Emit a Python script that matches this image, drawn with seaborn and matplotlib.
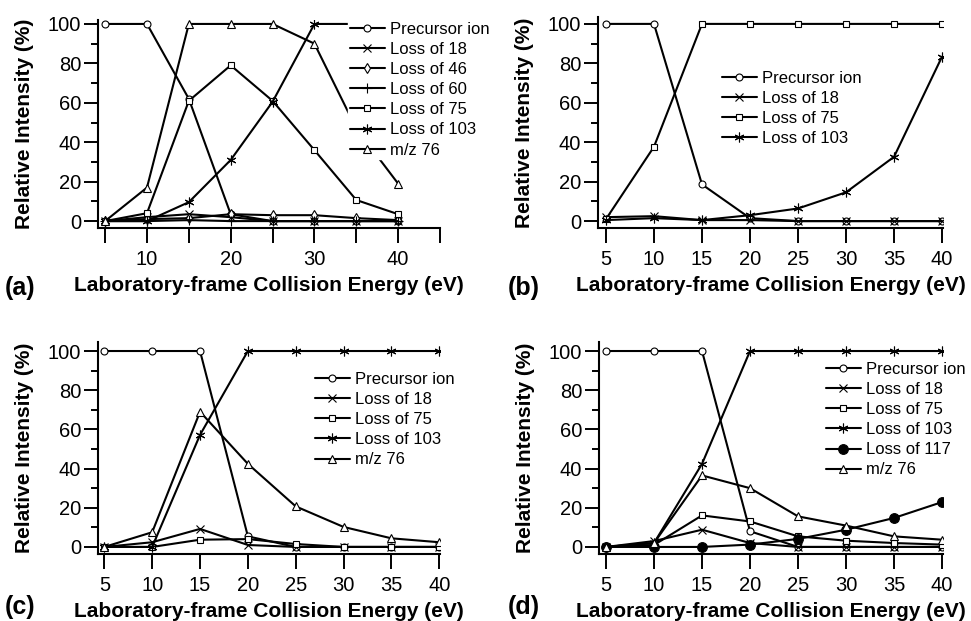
import matplotlib
matplotlib.use("Agg")
import matplotlib.pyplot as plt
from matplotlib.ticker import FixedLocator
import seaborn as sns

# ---------------- data ----------------
energy = [5, 10, 15, 20, 25, 30, 35, 40]

# panel (a)
a_precursor = [100, 100, 62, 3.5, 0, 0, 0, 0]
a_loss18 = [0, 2, 3.5, 2, 0, 0, 0, 0]
a_loss46 = [0, 1, 1.5, 3.5, 3, 3, 1.5, 0.5]
a_loss60 = [0, 0, 0.5, 0, 0, 0, 0, 0]
a_loss75 = [0, 4, 61, 79, 61, 36, 10.7, 3.5]
a_loss103 = [0, 0, 9.6, 31, 60.5, 100, 100, 100]
a_mz76 = [0, 17, 100, 100, 100, 90, 47, 19]

# panel (b)
b_precursor = [100, 100, 18.6, 1.5, 0, 0, 0, 0]
b_loss18 = [2, 2.5, 0.5, 0.5, 0, 0, 0, 0]
b_loss75 = [1, 37.7, 100, 100, 100, 100, 100, 100]
b_loss103 = [0.5, 1.5, 0.5, 3, 6.4, 14.6, 32.6, 83.4]

# panel (c)
c_precursor = [100, 100, 100, 5.4, 0, 0, 0, 0]
c_loss18 = [0, 2.4, 9.2, 1, 0, 0, 0, 0]
c_loss75 = [0, 0, 3.7, 4, 1.5, 0, 0, 0]
c_loss103 = [0, 0, 57.2, 100, 100, 100, 100, 100]
c_mz76 = [0, 7.5, 69, 42.4, 20.7, 10.2, 4.4, 2.4]

# panel (d)
d_precursor = [100, 100, 100, 8, 0, 0, 0, 0]
d_loss18 = [0, 3, 8.8, 2, 0, 0, 0, 0]
d_loss75 = [0, 1, 16.1, 13, 5.4, 3.2, 2, 1.2]
d_loss103 = [0, 2, 42.4, 100, 100, 100, 100, 100]
d_loss117 = [0, 0, 0, 1.2, 4.1, 8.8, 14.8, 22.9]
d_mz76 = [0, 2, 36.5, 30, 15.6, 10.9, 5.4, 3.7]

names = {
    "pre": "Precursor ion", "18": "Loss of 18", "46": "Loss of 46",
    "60": "Loss of 60", "75": "Loss of 75", "103": "Loss of 103",
    "117": "Loss of 117", "mz": "m/z 76",
}

# ---------------- style ----------------
sns.set_theme(style="ticks")
plt.rcParams["font.family"] = ["Liberation Sans", "DejaVu Sans"]
plt.rcParams["axes.linewidth"] = 1.4

W, H = 971, 621
fig = plt.figure(figsize=(W / 100, H / 100), dpi=100)

ASTER = (6, 2, 0)
mstyle = {
    "pre": dict(marker="o", ms=5, mfc="white"),
    "18": dict(marker="x", ms=6, mfc="white"),
    "46": dict(marker="d", ms=5, mfc="white"),
    "60": dict(marker="+", ms=7, mfc="white"),
    "75": dict(marker="s", ms=5, mfc="white"),
    "103": dict(marker=ASTER, ms=7, mfc="white"),
    "117": dict(marker="o", ms=7, mfc="black"),
    "mz": dict(marker="^", ms=5.5, mfc="white"),
}


def make_ax(left, right, top, bottom, xlim, ylim):
    ax = fig.add_axes([left / W, 1 - bottom / H, (right - left) / W, (bottom - top) / H])
    ax.set_xlim(*xlim)
    ax.set_ylim(*ylim)
    ax.set_facecolor("white")
    return ax


def draw(ax, series):
    for key, vals in series:
        st = mstyle[key]
        sns.lineplot(x=energy, y=vals, ax=ax, color="black", linewidth=1.5,
                     marker=st["marker"], markersize=st["ms"],
                     markerfacecolor=st["mfc"], markeredgecolor="black",
                     markeredgewidth=0.8, label=names[key], legend=False,
                     errorbar=None, sort=False)


def style_ax(ax, panel_a=False):
    for s in ("top", "right"):
        ax.spines[s].set_visible(False)
    for s in ("left", "bottom"):
        ax.spines[s].set_color("black")
        ax.spines[s].set_linewidth(1.5)
    ax.yaxis.set_major_locator(FixedLocator([0, 20, 40, 60, 80, 100]))
    ax.yaxis.set_minor_locator(FixedLocator([10, 30, 50, 70, 90]))
    if panel_a:
        ax.xaxis.set_major_locator(FixedLocator([10, 20, 30, 40]))
        ax.xaxis.set_minor_locator(FixedLocator([5, 15, 25, 35, 45]))
    else:
        ax.xaxis.set_major_locator(FixedLocator([5, 10, 15, 20, 25, 30, 35, 40]))
    ax.tick_params(axis="y", which="major", direction="out", length=10, width=1.4,
                   color="black", labelsize=14.5, pad=2, labelcolor="black")
    ax.tick_params(axis="y", which="minor", direction="out", length=5, width=1.4,
                   color="black")
    ax.tick_params(axis="x", which="both", direction="out", length=11, width=1.4,
                   color="black", labelsize=14.5, pad=5, labelcolor="black")
    ax.set_xlabel("Laboratory-frame Collision Energy (eV)", fontsize=15,
                  fontweight="bold", color="black", labelpad=5)
    ax.set_ylabel("Relative Intensity (%)", fontsize=15, fontweight="bold",
                  color="black", labelpad=10)
    ax.grid(False)


def legend(ax, x, y):
    leg = ax.legend(loc="upper left", bbox_to_anchor=(x / W, 1 - y / H),
                    bbox_transform=fig.transFigure, frameon=True, framealpha=1,
                    facecolor="white", edgecolor="white", fancybox=False,
                    fontsize=12, handlelength=2.1, handletextpad=0.3,
                    labelspacing=0.31, borderpad=0.1, borderaxespad=0,
                    numpoints=1)
    leg.set_zorder(5)
    for t in leg.get_texts():
        t.set_color("black")


# (a)
axa = make_ax(98, 440, 20, 228, (4.15, 45), (-3.5, 102))
draw(axa, [("pre", a_precursor), ("18", a_loss18), ("46", a_loss46),
           ("60", a_loss60), ("75", a_loss75), ("103", a_loss103), ("mz", a_mz76)])
style_ax(axa, panel_a=True)
legend(axa, 348, 20)

# (b)
axb = make_ax(598, 943, 17, 228, (4.17, 40.1), (-3.5, 103.5))
draw(axb, [("pre", b_precursor), ("18", b_loss18), ("75", b_loss75),
           ("103", b_loss103)])
style_ax(axb)
legend(axb, 720, 69)

# (c)
axc = make_ax(98, 440, 342, 554, (4.34, 40.07), (-3.6, 104.6))
draw(axc, [("pre", c_precursor), ("18", c_loss18), ("75", c_loss75),
           ("103", c_loss103), ("mz", c_mz76)])
style_ax(axc)
legend(axc, 313, 370)

# (d)
axd = make_ax(599, 943, 342, 554, (4.27, 40.1), (-3.6, 104.6))
draw(axd, [("pre", d_precursor), ("18", d_loss18), ("75", d_loss75),
           ("103", d_loss103), ("117", d_loss117), ("mz", d_mz76)])
style_ax(axd)
legend(axd, 824, 360)

# panel letters
for lab, x, y in [("(a)", 5, 288), ("(b)", 508, 288), ("(c)", 5, 607), ("(d)", 508, 607)]:
    fig.text(x / W, 1 - y / H, lab, fontsize=18, fontweight="bold",
             ha="left", va="center", color="black")

fig.savefig("out.png", dpi=100, facecolor="white")
